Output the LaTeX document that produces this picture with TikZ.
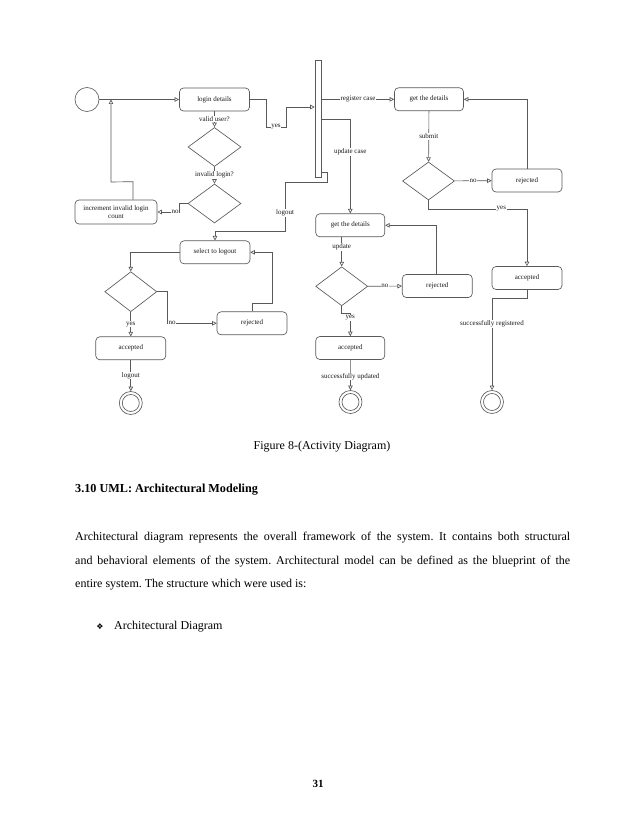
\documentclass[tikz,border=0pt]{standalone}
\usepackage{fontspec}
\setmainfont{Liberation Serif}
\newfontfamily\symfont{DejaVu Sans}
\usetikzlibrary{shapes.geometric,arrows.meta}
\frenchspacing
\begin{document}
\begin{tikzpicture}[x=1pt,y=-1pt,
  ln/.style={draw=black!65, line width=0.65pt},
  arr/.style={ln, -{Triangle[open,length=4.5pt,width=4.5pt]}},
  act/.style={draw=black!65, line width=0.65pt, rounded corners=4pt, minimum width=70pt, minimum height=23pt, inner sep=1pt, font=\fontsize{7}{8}\selectfont, align=center, text=black!90},
  dec/.style={draw=black!65, line width=0.65pt, diamond, inner sep=0pt, minimum width=53pt, minimum height=39pt},
  lbl/.style={fill=white, inner sep=0.6pt, font=\fontsize{7}{8}\selectfont, text=black!90},
  fin/.style={draw=black!65, line width=0.65pt, circle, minimum size=23pt, inner sep=0pt},
  body/.style={font=\fontsize{12}{14}\selectfont, anchor=mid west, inner sep=0pt},
]
\useasboundingbox (0,0) rectangle (638,826);
\fill[white] (0,0) rectangle (638,826);

% nodes
\node[fin, minimum size=24pt] (init) at (87,99.5) {};
\node[act] (login) at (214.5,99.5) {login details};
\node[dec] (d1) at (214.5,147) {};
\node[dec] (d2) at (214.5,203.5) {};
\node[act, minimum width=82pt, minimum height=24pt] (inc) at (116,212) {increment invalid login\\count};
\node[draw=black!65, line width=0.65pt, minimum width=6.5pt, minimum height=117pt, inner sep=0pt] (bar) at (318.3,118.5) {};
\node[act, minimum width=69pt] (gd1) at (429,99.3) {get the details};
\node[dec, minimum width=52pt, minimum height=38pt] (d3) at (428.5,181) {};
\node[act] (rej1) at (527,180.5) {rejected};
\node[act] (acc1) at (527,278) {accepted};
\node[act, minimum width=69pt] (gd2) at (350.3,225.3) {get the details};
\node[dec, minimum width=52pt] (d4) at (341.7,286.3) {};
\node[act] (rej2) at (437.3,286) {rejected};
\node[act, minimum width=69pt] (acc2) at (350.3,348) {accepted};
\node[act] (sel) at (215,252.3) {select to logout};
\node[dec, minimum width=52pt, minimum height=40pt] (d5) at (130.8,291.7) {};
\node[act] (rej3) at (252,323.3) {rejected};
\node[act] (acc3) at (130.8,348.3) {accepted};
\node[fin] (f1) at (130.8,403) {};
\node[fin] (f2) at (350.5,402) {};
\node[fin] (f3) at (492,402) {};
\draw[ln] (f1) circle (8.5pt);
\draw[ln] (f2) circle (8.5pt);
\draw[ln] (f3) circle (8.5pt);

% connectors
\coordinate (j1) at (111,99.5);
\coordinate (c1) at (272.3,303.3);
\draw[arr] (init) -- (login);
\draw[arr] ([xshift=17pt]inc.north) -- ++(0,-18) -- (111,182) -- (j1);
\draw[arr] (login) -- (d1) node[lbl, midway]{valid user?};
\draw[arr] (d1) -- (d2) node[lbl, midway]{invalid login?};
\draw[arr] (d2.west) -- ++(-8,0) -- ++(0,8.5) -- (inc.east) node[lbl, pos=0.2]{no};
\draw[arr] (login.east) -- (266,99.5) -- (266,127) -- (286,127) node[lbl, midway]{yes} -- (286,107) -- (bar.west |- 0,107);
\draw[arr] (bar.east |- gd1.west) -- (gd1.west) node[lbl, midway]{register case};
\draw[arr] (bar.east |- 0,119) -- (gd2.north |- 0,119) -- (gd2.north) node[lbl, pos=0.35]{update case};
\draw[arr] (bar.east |- 0,172.7) -- (327.7,172.7) -- (327.7,182) -- (285,182) -- (285,231) node[lbl, pos=0.63]{logout} -- (sel.north |- 0,231) -- (sel.north);
\draw[arr] (gd1) -- (d3) node[lbl, midway]{submit};
\draw[arr] (d3) -- (rej1) node[lbl, midway]{no};
\draw[arr] (rej1.north) |- (gd1.east);
\draw[arr] (d3.south) -- (d3.south |- 0,209) -| (acc1.north) node[lbl, pos=0.37]{yes};
\draw[arr] (acc1.south) -- (acc1.south |- 0,298) -| (f3.north) node[lbl, pos=0.64]{successfully registered};
\draw[arr] (d4.north |- gd2.south) -- (d4.north) node[lbl, pos=0.34]{update};
\draw[arr] (d4) -- (rej2) node[lbl, midway]{no};
\draw[arr] ([xshift=-0.6pt]rej2.north) |- (gd2.east);
\draw[arr] (d4.south) -- ++(0,7) -| (acc2.north) node[lbl, pos=0.6]{yes};
\draw[arr] (acc2) -- (f2) node[lbl, pos=0.55]{successfully updated};
\draw[arr] (sel.west) -| (d5.north);
\draw[arr] (d5.east) -- ++(10,0) |- (rej3.west) node[lbl, pos=0.55]{no};
\draw[arr] (rej3.north) -- (rej3.north |- c1) -- (c1) |- (sel.east);
\draw[arr] (d5) -- (acc3) node[lbl, midway]{yes};
\draw[arr] (acc3) -- (f1) node[lbl, midway]{logout};

% page text
\node[body, anchor=center] (cap) at (322,447) {Figure 8-(Activity Diagram)};
\node[body, font=\fontsize{12.2}{14}\selectfont\bfseries] (head) at (75,490) {3.10 UML: Architectural Modeling};
\node[body] (p1) at (75,538) {\makebox[495pt][s]{Architectural diagram represents the overall framework of the system. It contains both structural}};
\node[body] (p2) at (75,562) {\makebox[495pt][s]{and behavioral elements of the system. Architectural model can be defined as the blueprint of the}};
\node[body] (p3) at (75,585) {entire system. The structure which were used is:};
\node[inner sep=0pt, font=\symfont\fontsize{8}{9}\selectfont] (bul) at (100,627) {❖};
\node[body] (item) at (114,627) {Architectural Diagram};
\node[inner sep=0pt, font=\fontsize{11}{13}\selectfont\bfseries] (pg) at (318,784) {31};
\end{tikzpicture}
\end{document}
